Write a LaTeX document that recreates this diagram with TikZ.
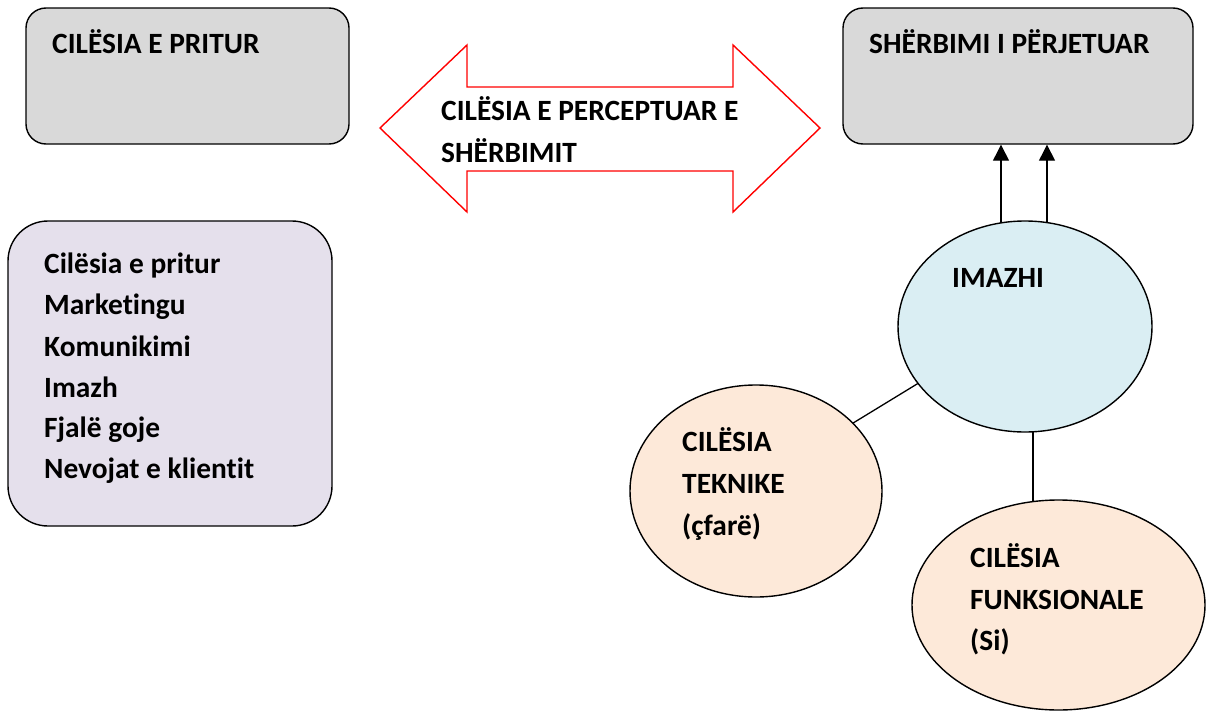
\documentclass[tikz,border=0pt]{standalone}
\usepackage{fontspec}
\setmainfont{Carlito}[Ligatures=NoCommon]
\usetikzlibrary{shapes.geometric, arrows.meta}
\definecolor{boxgray}{HTML}{D9D9D9}
\definecolor{listlilac}{HTML}{E5E0EC}
\definecolor{imgblue}{HTML}{DAEEF3}
\definecolor{qpeach}{HTML}{FDE9D9}
\definecolor{arrowred}{HTML}{FF0000}
\begin{document}
\begin{tikzpicture}[x=1pt, y=-1pt,
  outline/.style={draw=black, line width=1.4pt},
  graybox/.style={rectangle, outline, fill=boxgray, rounded corners=20pt, inner sep=0pt},
  listbox/.style={rectangle, outline, fill=listlilac, rounded corners=40pt, inner sep=0pt},
  oval/.style={ellipse, outline, inner sep=0pt, outer sep=0pt},
  lbl/.style={font=\fontsize{29.4}{34}\selectfont\bfseries, inner sep=0pt, anchor=base west},
  link/.style={black, line width=1.3pt},
  uparrow/.style={link, -{Triangle[length=16pt, width=16pt]}}
]
\useasboundingbox (0,0) rectangle (1212,712);

% boxes
\node[graybox, minimum width=323pt, minimum height=136pt] (expected) at (187.5,76) {};
\node[graybox, minimum width=350pt, minimum height=136pt] (service) at (1018,76) {};
\node[listbox, minimum width=324pt, minimum height=305pt] (sources) at (170,373.5) {};

% two-headed arrow between expected and experienced quality
\draw[arrowred, line width=1.4pt, fill=white]
  (380,128) -- (467,45) -- (467,87) -- (733,87) -- (733,45) -- (820,128)
  -- (733,212) -- (733,171) -- (467,171) -- (467,212) -- cycle;

% ovals
\node[oval, fill=imgblue, minimum width=254pt, minimum height=211pt] (image) at (1025,326.5) {};
\node[oval, fill=qpeach, minimum width=252pt, minimum height=212pt] (technical) at (756,491) {};

% vertical link, partly hidden by the functional oval drawn next
\coordinate (dn) at (1033,520);
\draw[link] (dn) -- (dn |- image.south);
\node[oval, fill=qpeach, minimum width=293pt, minimum height=210pt] (functional) at (1058.5,605) {};

% connectors
\coordinate (up1) at (1001,223);
\coordinate (up2) at (1047,223);
\draw[uparrow] (up1) -- (up1 |- service.south);
\draw[uparrow] (up2) -- (up2 |- service.south);
\draw[link] (image.208) -- (technical.35);

% labels
\node[lbl] (expectedT) at (52,53) {CILËSIA E PRITUR};
\node[lbl] (serviceT) at (869,53) {SHËRBIMI I PËRJETUAR};
\node[lbl] (percA) at (441,120) {CILËSIA E PERCEPTUAR E};
\node[lbl] (percB) at (441,162) {SHËRBIMIT};

\node[lbl] (src1) at (44,273) {Cilësia e pritur};
\node[lbl] (src2) at (44,314) {Marketingu};
\node[lbl] (src3) at (44,356) {Komunikimi};
\node[lbl] (src4) at (44,397) {Imazh};
\node[lbl] (src5) at (44,437) {Fjalë goje};
\node[lbl] (src6) at (44,478) {Nevojat e klientit};

\node[lbl] (imageT) at (952,287) {IMAZHI};

\node[lbl] (techA) at (682,451) {CILËSIA};
\node[lbl] (techB) at (682,493) {TEKNIKE};
\node[lbl] (techC) at (682,535) {(çfarë)};

\node[lbl] (funcA) at (970,567) {CILËSIA};
\node[lbl] (funcB) at (970,609) {FUNKSIONALE};
\node[lbl] (funcC) at (970,650) {(Si)};
\end{tikzpicture}
\end{document}
